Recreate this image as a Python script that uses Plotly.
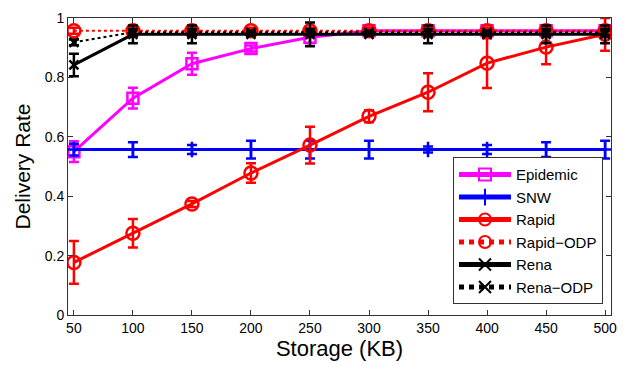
import plotly.graph_objects as go

storage = [50, 100, 150, 200, 250, 300, 350, 400, 450, 500]

epidemic = [0.55, 0.73, 0.846, 0.897, 0.935, 0.957, 0.957, 0.957, 0.957, 0.957]
epidemic_err = [0.035, 0.035, 0.037, 0.01, 0.02, 0.01, 0.015, 0.01, 0.015, 0.01]

snw = [0.557, 0.557, 0.557, 0.557, 0.557, 0.557, 0.557, 0.557, 0.557, 0.557]
snw_err = [0.02, 0.025, 0.015, 0.03, 0.03, 0.03, 0.01, 0.015, 0.025, 0.03]

rapid = [0.177, 0.275, 0.374, 0.478, 0.572, 0.669, 0.75, 0.848, 0.902, 0.945]
rapid_err = [0.072, 0.048, 0.01, 0.033, 0.062, 0.02, 0.064, 0.084, 0.058, 0.055]

rapid_odp = [0.957, 0.957, 0.957, 0.957, 0.957, 0.957, 0.957, 0.957, 0.957, 0.957]
rapid_odp_err = [0.01, 0.01, 0.01, 0.01, 0.01, 0.01, 0.01, 0.01, 0.01, 0.01]

rena = [0.842, 0.945, 0.945, 0.945, 0.945, 0.945, 0.945, 0.945, 0.945, 0.945]
rena_err = [0.038, 0.03, 0.03, 0.005, 0.04, 0.005, 0.03, 0.005, 0.03, 0.03]

rena_odp = [0.918, 0.952, 0.952, 0.952, 0.952, 0.952, 0.952, 0.952, 0.952, 0.952]
rena_odp_err = [0.01, 0.01, 0.01, 0.005, 0.01, 0.005, 0.01, 0.005, 0.01, 0.01]

series = [
    ("Epidemic", epidemic, epidemic_err, "#ff00ff", "solid", "square-open", 3, 11),
    ("SNW", snw, snw_err, "#0000ff", "solid", "cross-thin-open", 3, 11),
    ("Rapid", rapid, rapid_err, "#ff0000", "solid", "circle-open", 3, 13),
    ("Rapid\u2212ODP", rapid_odp, rapid_odp_err, "#ff0000", "dot", "circle-open", 2, 13),
    ("Rena", rena, rena_err, "#000000", "solid", "x-thin-open", 3, 9),
    ("Rena\u2212ODP", rena_odp, rena_odp_err, "#000000", "dot", "x-thin-open", 2, 9),
]

fig = go.Figure()
for name, y, err, color, dash, sym, lw, ms in series:
    fig.add_trace(go.Scatter(
        x=storage, y=y, name=name, mode="lines+markers",
        line=dict(color=color, width=lw, dash=dash),
        marker=dict(symbol=sym, size=ms, color=color, line=dict(width=2.5, color=color)),
        error_y=dict(type="data", array=err, visible=True, color=color, thickness=2.5, width=5),
    ))

axis_common = dict(
    showline=True, linecolor="#333333", linewidth=1, mirror="ticks",
    ticks="inside", ticklen=5, tickcolor="#333333", showgrid=False, zeroline=False,
    tickfont=dict(family="Liberation Sans, Arial", size=14, color="#000000"),
)

fig.update_layout(
    width=627, height=367,
    margin=dict(l=68, r=16, t=10, b=52),
    plot_bgcolor="white", paper_bgcolor="white",
    font=dict(family="Liberation Sans, Arial", color="#000000"),
    xaxis=dict(range=[45, 505], tickvals=storage,
               title=dict(text="Storage (KB)", font=dict(size=22), standoff=0),
               **axis_common),
    yaxis=dict(range=[0, 1], tickvals=[0, 0.2, 0.4, 0.6, 0.8, 1],
               ticktext=["0", "0.2", "0.4", "0.6", "0.8", "1"],
               title=dict(text="Delivery Rate", font=dict(size=21), standoff=8),
               **axis_common),
    legend=dict(x=0.709, y=0.036, xanchor="left", yanchor="bottom",
                bordercolor="#333333", borderwidth=1, bgcolor="white",
                font=dict(size=15), tracegroupgap=0, itemsizing="constant",
                itemwidth=52),
    showlegend=True,
)

fig.write_html("out.html")
